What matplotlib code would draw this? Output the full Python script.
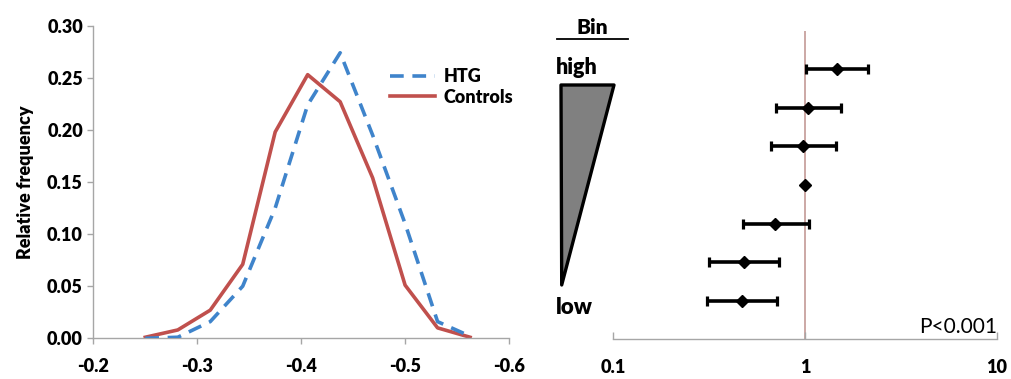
import numpy as np
import matplotlib
matplotlib.use('Agg')
import matplotlib.pyplot as plt
from matplotlib.patches import Polygon
from matplotlib.lines import Line2D

plt.rcParams['font.family'] = ['Lato', 'DejaVu Sans']
plt.rcParams['font.weight'] = 'heavy'
plt.rcParams['axes.labelweight'] = 'heavy'

# 왼쪽: 분포 (relative frequency)
bin_x = [-0.25, -0.28125, -0.3125, -0.34375, -0.375, -0.40625,
         -0.4375, -0.46875, -0.5, -0.53125, -0.5625]
htg = [0.000, 0.001, 0.016, 0.050, 0.125, 0.224, 0.274, 0.195, 0.110, 0.016, 0.002]
controls = [0.001, 0.008, 0.027, 0.071, 0.198, 0.253, 0.227, 0.154, 0.051, 0.010, 0.001]
x_ticks = [-0.2, -0.3, -0.4, -0.5, -0.6]
y_ticks = [0.00, 0.05, 0.10, 0.15, 0.20, 0.25, 0.30]

# 오른쪽: bin 별 odds ratio (위 = high, 아래 = low)
bin_pos = [7, 6, 5, 4, 3, 2, 1]
odds = [1.47, 1.04, 0.98, 1.00, 0.70, 0.481, 0.471]
ci_low = [1.01, 0.706, 0.668, None, 0.473, 0.317, 0.307]
ci_high = [2.14, 1.54, 1.45, None, 1.044, 0.732, 0.711]
or_ticks = [0.1, 1, 10]
or_labels = ['0.1', '1', '10']

blue = '#3F84CB'
red = '#C0504D'
gray = '#A6A6A6'

fig = plt.figure(figsize=(10.11, 3.79), dpi=100)

# ---------------- left panel ----------------
ax1 = fig.add_axes([0.0923, 0.1074, 0.4112, 0.8248])
ax1.plot(bin_x, controls, color=red, lw=2.6, label='Controls', zorder=2)
ax1.plot(bin_x, htg, color=blue, lw=2.6, dashes=(3.8, 2.4), label='HTG', zorder=3)
ax1.set_xlim(-0.2, -0.6)
ax1.set_ylim(0, 0.3)
ax1.set_xticks(x_ticks)
ax1.set_xticklabels([f'{v:.1f}' for v in x_ticks])
ax1.set_yticks(y_ticks)
ax1.set_yticklabels([f'{v:.2f}' for v in y_ticks])
for s in ['top', 'right']:
    ax1.spines[s].set_visible(False)
for s in ['left', 'bottom']:
    ax1.spines[s].set_color(gray)
    ax1.spines[s].set_linewidth(1.0)
ax1.tick_params(axis='x', direction='out', length=4, width=1, color=gray,
                pad=10.5, labelsize=13)
ax1.tick_params(axis='y', direction='out', length=4, width=1, color=gray,
                pad=3.5, labelsize=13)
ax1.set_ylabel('Relative frequency', fontsize=13)
ax1.yaxis.set_label_coords(-0.142, 0.5)

h, l = ax1.get_legend_handles_labels()
ax1.legend(h[::-1], l[::-1], loc='upper left', bbox_to_anchor=(0.714, 0.865),
           frameon=False, fontsize=13, handlelength=2.5, handletextpad=0.45,
           labelspacing=0.2, borderpad=0, borderaxespad=0)

# ---------------- right panel ----------------
ax2 = fig.add_axes([0.6066, 0.1047, 0.3792, 0.8148])
ax2.set_xscale('log')
ax2.set_xlim(0.1, 10)
ax2.set_ylim(0, 8)
ax2.axvline(1, color='#C39A96', lw=1.2, zorder=1)

for y, o, lo, hi in zip(bin_pos, odds, ci_low, ci_high):
    if lo is None:
        continue
    ax2.errorbar([o], [y], xerr=[[o - lo], [hi - o]], fmt='none', ecolor='black',
                 elinewidth=2.6, capsize=3.3, capthick=2.3, zorder=2)
ax2.plot(odds, bin_pos, 'D', color='black', ms=6.5, zorder=3)

ax2.set_xticks(or_ticks)
ax2.set_xticklabels(or_labels)
ax2.xaxis.set_minor_locator(matplotlib.ticker.NullLocator())
ax2.set_yticks([])
for s in ['top', 'right', 'left']:
    ax2.spines[s].set_visible(False)
ax2.spines['bottom'].set_color(gray)
ax2.spines['bottom'].set_linewidth(1.0)
ax2.tick_params(axis='x', direction='in', length=5, width=1, color=gray,
                pad=14.1, labelsize=13)
ax2.text(10, 0.16, 'P<0.001', ha='right', va='baseline', fontsize=15,
         fontweight='normal')

# Bin 범례 (삼각형)
W, H = 1011, 379
def fxy(px, py):
    return (px / W, 1 - py / H)

fig.text(*fxy(592.5, 27), 'Bin', ha='center', va='center', fontsize=15)
fig.add_artist(Line2D([556.7 / W, 628.3 / W], [1 - 39.3 / H, 1 - 39.3 / H],
                      color='black', lw=1.3))
fig.text(*fxy(556, 67), 'high', ha='left', va='center', fontsize=15.5)
fig.text(*fxy(556, 307), 'low', ha='left', va='center', fontsize=16)
tri = Polygon([fxy(561, 85), fxy(614, 85), fxy(561.7, 285)], closed=True,
              transform=fig.transFigure, facecolor='#808080', edgecolor='black',
              lw=2.4, joinstyle='round')
fig.add_artist(tri)

fig.savefig('out.png', dpi=100)
